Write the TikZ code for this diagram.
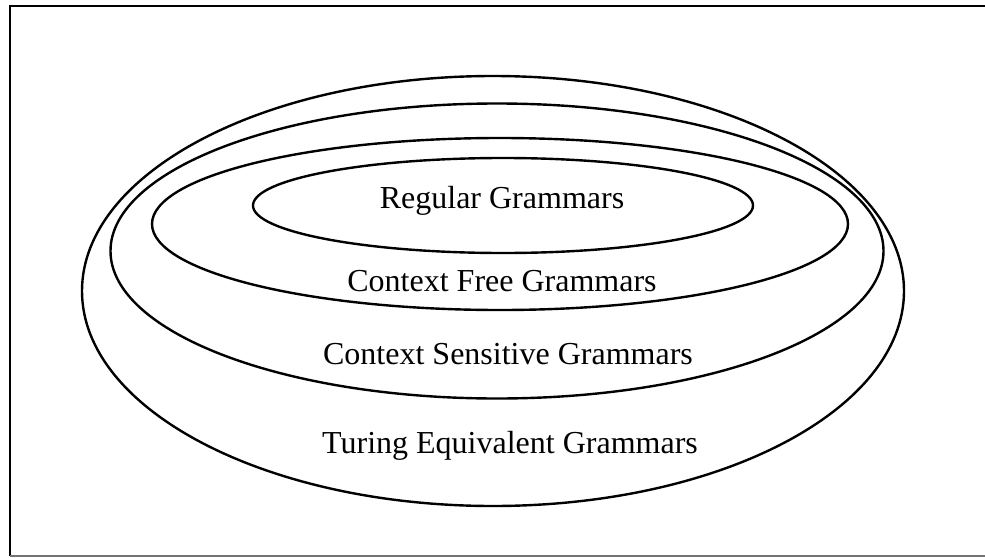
\documentclass[tikz,border=0pt]{standalone}
\usepackage{fontspec}
\setmainfont{Liberation Serif}
\usetikzlibrary{shapes.geometric}
\begin{document}
\begin{tikzpicture}[x=1pt,y=-1pt,
  set/.style={draw=black, line width=2.4pt, ellipse, inner sep=0pt},
  lab/.style={font=\fontsize{32}{38}\selectfont, inner sep=0pt},
  frame/.style={line width=2.2pt}]
\useasboundingbox (0,0) rectangle (985,557);
% frame
\coordinate (tl) at (10,6);
\coordinate (tr) at (985,6);
\coordinate (bl) at (10,556);
\coordinate (br) at (985,556);
\draw[frame] (tr) -- (tl) -- (bl);
\draw[frame, black!55] (bl) -- (br);
% sets
\node[set, minimum width=822pt, minimum height=430pt] (te) at (493,291) {};
\node[set, minimum width=773pt, minimum height=295pt] (cs) at (497,251) {};
\node[set, minimum width=696pt, minimum height=172pt] (cf) at (500,224) {};
\node[set, minimum width=500pt, minimum height=95pt] (rg) at (503,205.5) {};
% labels
\node[lab] (lrg) at (502,201) {Regular Grammars};
\node[lab] (lcf) at (502,281) {Context Free Grammars};
\node[lab] (lcs) at (508,354) {Context Sensitive Grammars};
\node[lab] (lte) at (510,446) {Turing Equivalent Grammars};
\end{tikzpicture}
\end{document}
